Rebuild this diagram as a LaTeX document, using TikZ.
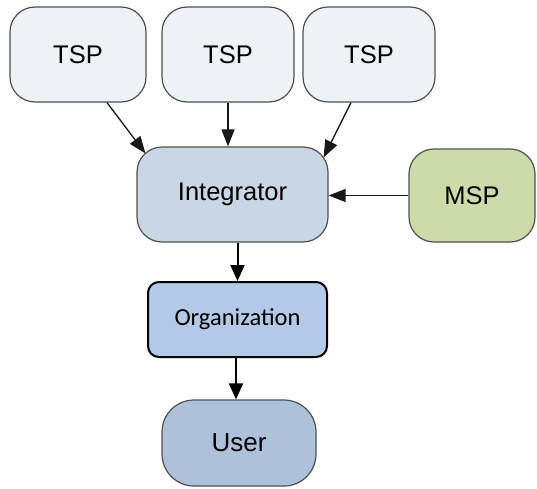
\documentclass[tikz,border=0pt]{standalone}
\usepackage{fontspec}
\setmainfont{Liberation Sans}
\newfontfamily\orgfont{Carlito}
\usetikzlibrary{arrows.meta}
\definecolor{tspfill}{HTML}{EEF1F6}
\definecolor{intfill}{HTML}{C8D6E6}
\definecolor{mspfill}{HTML}{CCDBA9}
\definecolor{orgfill}{HTML}{B4C8E8}
\definecolor{userfill}{HTML}{AEC1DB}
\definecolor{edge}{HTML}{505050}
\tikzset{
  box/.style={draw=edge, line width=1.2pt, rounded corners=25pt,
    font=\fontsize{25.5}{29}\selectfont, inner sep=0pt},
  flow/.style={draw=black!90, line width=1.3pt,
    -{Triangle[length=17pt,width=13pt]}},
  boldflow/.style={draw=black, line width=2pt,
    -{Triangle[length=16pt,width=14pt]}},
}
\begin{document}
\begin{tikzpicture}[x=1pt,y=-1pt]
\useasboundingbox (0,0) rectangle (537,488);

% suppliers
\node[box, fill=tspfill, minimum width=136pt, minimum height=95pt] (tspa) at (78,54.5) {TSP};
\node[box, fill=tspfill, minimum width=132pt, minimum height=95pt] (tspb) at (228,54.5) {TSP};
\node[box, fill=tspfill, minimum width=132pt, minimum height=95pt] (tspc) at (369,54.5) {TSP};

% integrator and managed service provider
\node[box, fill=intfill, minimum width=191pt, minimum height=95pt] (integ) at (232.5,194.5) {Integrator};
\node[box, fill=mspfill, minimum width=126pt, minimum height=93pt] (msp) at (472,195.5) {MSP};

% organization and user
\node[box, draw=black, line width=2pt, rounded corners=11pt, fill=orgfill,
  minimum width=179pt, minimum height=75pt,
  font=\orgfont\fontsize{24.5}{28}\selectfont] (org) at (237.5,319.5) {Organization};
\node[box, rounded corners=32pt, fill=userfill, minimum width=154pt, minimum height=86pt,
  font=\fontsize{26}{30}\selectfont] (user) at (239,443) {User};

% connectors
\draw[flow] ([xshift=29pt]tspa.south) -- ([xshift=9pt,yshift=-7pt]integ.north west);
\draw[flow] (tspb.south) -- (tspb.south |- integ.north);
\draw[flow] ([xshift=-18pt]tspc.south) -- ([xshift=-5pt,yshift=-11pt]integ.north east);
\draw[flow] (msp.west) -- (msp.west -| integ.east);
\draw[boldflow] (org.north |- integ.south) -- (org.north);
\draw[boldflow] ([xshift=-1.5pt]org.south) -- ([xshift=-1.5pt]org.south |- user.north);
\end{tikzpicture}
\end{document}
